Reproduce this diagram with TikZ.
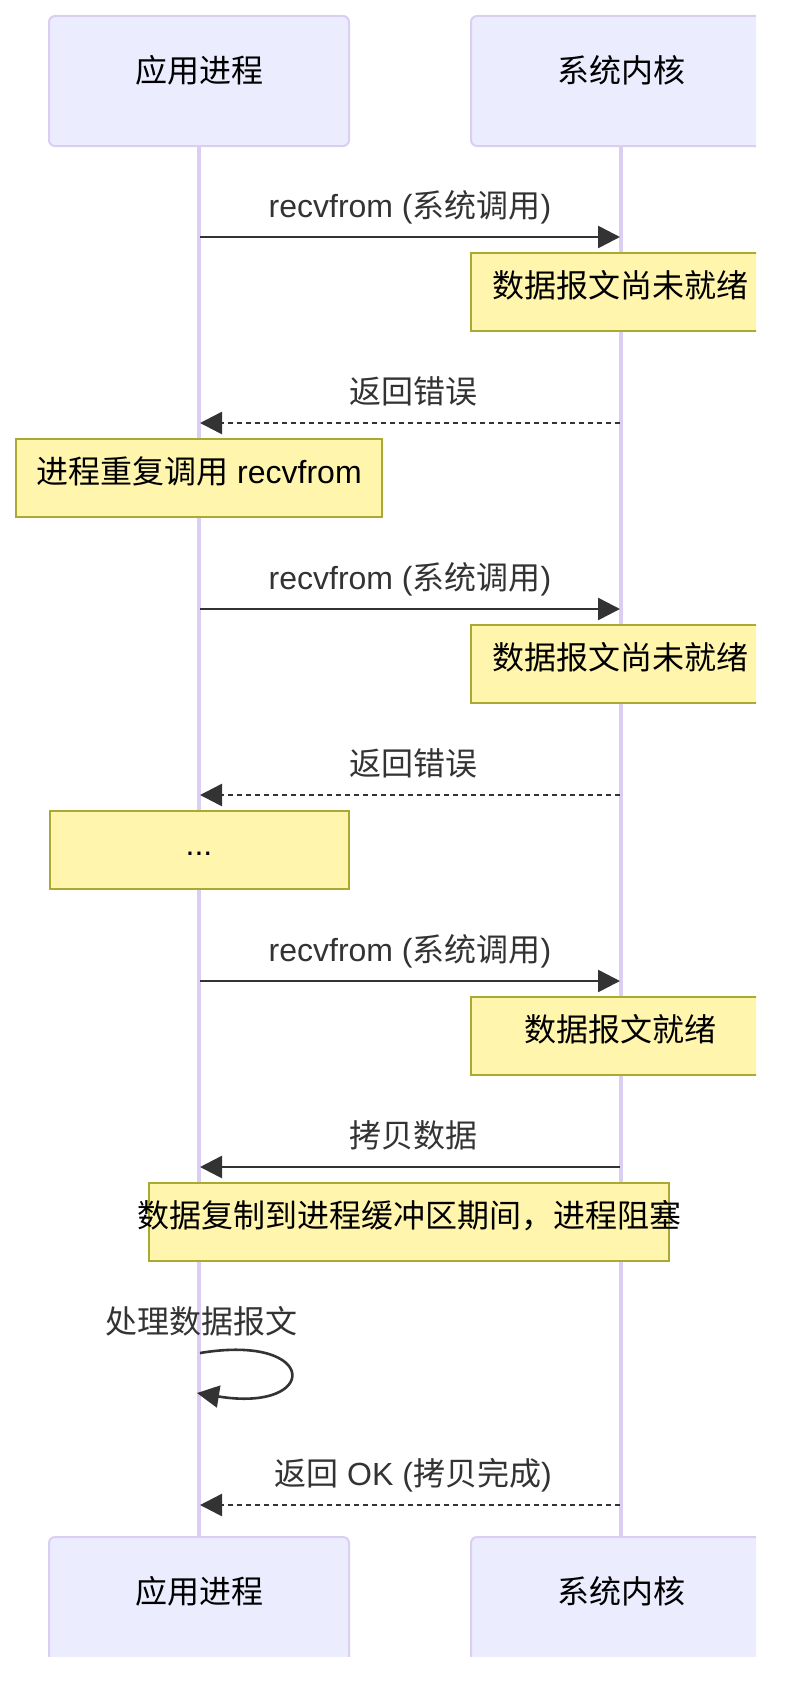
\documentclass[tikz,border=0pt]{standalone}
\usepackage{fontspec}
\setmainfont{Liberation Sans}
\newfontfamily\cjk{Noto Sans CJK SC}
\usepackage{tikz}
\usetikzlibrary{arrows.meta,positioning}
\usepackage{xcolor}

\definecolor{actorbg}{HTML}{ECECFF}
\definecolor{lilac}{HTML}{DACEF3}
\definecolor{notebg}{HTML}{FFF5AD}
\definecolor{noteline}{HTML}{AAAA33}
\definecolor{ink}{HTML}{333333}

\begin{document}
\begin{tikzpicture}[x=1pt, y=-1pt,
        every node/.style={font=\fontsize{32}{38}\selectfont, inner sep=0pt, text height=28pt, text depth=4pt},
        actor/.style={draw=lilac, line width=2pt, fill=actorbg, rounded corners=6pt, minimum width=300pt, minimum height=130pt, text depth=26pt},
        note/.style={draw=noteline, line width=2pt, fill=notebg, minimum height=78pt, text depth=18pt},
        lifeline/.style={draw=lilac, line width=3.5pt},
        msg/.style={draw=ink, line width=2.6pt, -{Triangle[length=22pt, width=22pt]}},
        reply/.style={msg, dash pattern=on 5pt off 4pt},
        msglabel/.style={text=ink}
    ]
        \useasboundingbox (0,0) rectangle (786,1686);
        \clip (0,0) rectangle (756,1656);

        % Teilnehmer oben und unten
        \node[actor] (app) at (199,81) {{\cjk 应用进程}};
        \node[actor] (kern) at (621,81) {{\cjk 系统内核}};
        \node[actor] (appb) at (199,1602) {{\cjk 应用进程}};
        \node[actor] (kernb) at (621,1602) {{\cjk 系统内核}};

        % Lebenslinien
        \draw[lifeline] (app) -- (appb);
        \draw[lifeline] (kern) -- (kernb);

        % 1. Aufruf
        \coordinate (a1) at (200,237);
        \coordinate (k1) at (620,237);
        \draw[msg] (a1) -- (k1);
        \node[msglabel] (l1) at (410,205) {recvfrom ({\cjk 系统调用})};
        \node[note, minimum width=298pt] (n1) at (620,292) {{\cjk 数据报文尚未就绪}};

        \coordinate (a2) at (200,423);
        \coordinate (k2) at (620,423);
        \draw[reply] (k2) -- (a2);
        \node[msglabel] (l2) at (413,391) {{\cjk 返回错误}};
        \node[note, minimum width=366pt] (n2) at (199,478) {{\cjk 进程重复调用} recvfrom};

        % 2. Aufruf
        \coordinate (a3) at (200,609);
        \coordinate (k3) at (620,609);
        \draw[msg] (a3) -- (k3);
        \node[msglabel] (l3) at (410,577) {recvfrom ({\cjk 系统调用})};
        \node[note, minimum width=298pt] (n3) at (620,664) {{\cjk 数据报文尚未就绪}};

        \coordinate (a4) at (200,795);
        \coordinate (k4) at (620,795);
        \draw[reply] (k4) -- (a4);
        \node[msglabel] (l4) at (413,763) {{\cjk 返回错误}};
        \node[note, minimum width=299pt] (n4) at (199,850) {...};

        % 3. Aufruf
        \coordinate (a5) at (200,981);
        \coordinate (k5) at (620,981);
        \draw[msg] (a5) -- (k5);
        \node[msglabel] (l5) at (410,949) {recvfrom ({\cjk 系统调用})};
        \node[note, minimum width=298pt] (n5) at (620,1036) {{\cjk 数据报文就绪}};

        \coordinate (a6) at (200,1167);
        \coordinate (k6) at (620,1167);
        \draw[msg] (k6) -- (a6);
        \node[msglabel] (l6) at (413,1135) {{\cjk 拷贝数据}};
        \node[note, minimum width=520pt] (n6) at (409,1222) {\makebox[520pt][c]{\cjk 数据复制到进程缓冲区期间，进程阻塞}};

        % Selbstaufruf
        \coordinate (s1) at (200,1353);
        \coordinate (s2) at (197,1393);
        \coordinate (c1) at (320,1333);
        \coordinate (c2) at (320,1413);
        \node[msglabel] (l7) at (201,1321) {{\cjk 处理数据报文}};
        \draw[msg] (s1) .. controls (c1) and (c2) .. (s2);

        % Rueckgabe
        \coordinate (a8) at (200,1505);
        \coordinate (k8) at (620,1505);
        \draw[reply] (k8) -- (a8);
        \node[msglabel] (l8) at (413,1473) {{\cjk 返回} OK ({\cjk 拷贝完成})};
    \end{tikzpicture}
\end{document}
